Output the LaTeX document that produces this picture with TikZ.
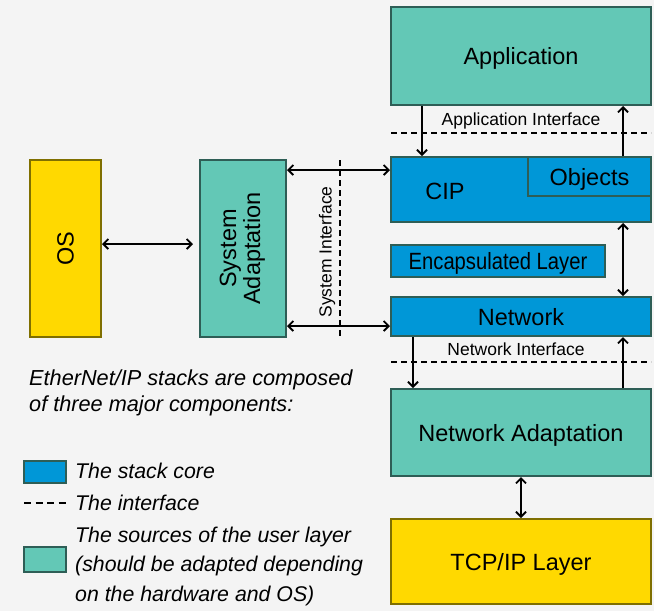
\documentclass[tikz,border=0pt]{standalone}
\usepackage{fontspec}
\setmainfont{Liberation Sans}
\usetikzlibrary{arrows.meta}
\definecolor{bgc}{HTML}{F4F4F4}
\definecolor{tealf}{HTML}{63C8B6}
\definecolor{teald}{HTML}{2E5E56}
\definecolor{bluef}{HTML}{0097D7}
\definecolor{yelf}{HTML}{FFD900}
\definecolor{yeld}{HTML}{7F6F00}
\tikzset{
  box/.style={draw, line width=2pt, inner sep=0pt, text depth=0pt, font=\fontsize{23.5}{26}\selectfont},
  tealbox/.style={box, fill=tealf, draw=teald},
  bluebox/.style={box, fill=bluef, draw=teald},
  yelbox/.style={box, fill=yelf, draw=yeld},
  arr/.style={line width=1.8pt, -{Straight Barb[length=5pt,width=10pt,line width=1.8pt]}},
  darr/.style={line width=1.8pt, {Straight Barb[length=5pt,width=10pt,line width=1.8pt]}-{Straight Barb[length=5pt,width=10pt,line width=1.8pt]}},
  dashline/.style={line width=1.8pt, dash pattern=on 6pt off 4pt},
  iflabel/.style={inner sep=0pt, font=\fontsize{17.5}{20}\selectfont},
  legtext/.style={inner sep=0pt, align=left, font=\fontsize{21.3}{29.5}\selectfont\itshape}
}
\begin{document}
\begin{tikzpicture}[x=1pt,y=-1pt]
\useasboundingbox[fill=bgc] (0,0) rectangle (654,611);

% stack boxes
\node[tealbox, minimum width=260pt, minimum height=98pt] (app) at (521,56) {Application};
\node[bluebox, minimum width=260pt, minimum height=65pt] (cip) at (521,189.5) {};
\node[inner sep=0pt, text depth=0pt, font=\fontsize{23.5}{26}\selectfont] (ciplab) at (445,191) {CIP};
\node[bluebox, minimum width=123pt, minimum height=39pt] (obj) at (589.5,176.5) {Objects};
\node[bluebox, minimum width=214pt, minimum height=32pt] (enc) at (498,261) {\scalebox{0.86}[1]{Encapsulated Layer}};
\node[bluebox, minimum width=260pt, minimum height=39pt] (net) at (521,316.5) {Network};
\node[tealbox, minimum width=260pt, minimum height=87pt] (na) at (521,432.5) {Network Adaptation};
\node[yelbox, minimum width=260pt, minimum height=85pt] (tcp) at (521,561.5) {TCP/IP Layer};

% left boxes
\node[yelbox, minimum width=71pt, minimum height=177pt] (os) at (65.5,248.5) {\rotatebox{90}{OS}};
\node[tealbox, minimum width=86pt, minimum height=177pt] (sa) at (243,248.5) {\rotatebox{90}{\begin{tabular}{@{}c@{}}System\\[-2pt]Adaptation\end{tabular}}};

% arrow x/y positions
\coordinate (xa) at (422,0);
\coordinate (xb) at (623,0);
\coordinate (xc) at (413,0);
\coordinate (ya) at (0,244);
\coordinate (yb) at (0,170);
\coordinate (yc) at (0,326);

% vertical arrows
\draw[arr] (app.south -| xa) -- (cip.north -| xa);
\draw[arr] (obj.north -| xb) -- (app.south -| xb);
\draw[darr] (cip.south -| xb) -- (net.north -| xb);
\draw[arr] (net.south -| xc) -- (na.north -| xc);
\draw[arr] (na.north -| xb) -- (net.south -| xb);
\draw[darr] (na.south) -- (tcp.north);

% horizontal arrows
\draw[darr, shorten >=6pt] (os.east |- ya) -- (sa.west |- ya);
\draw[darr] (sa.east |- yb) -- (cip.west |- yb);
\draw[darr] (sa.east |- yc) -- (net.west |- yc);

% interfaces
\coordinate (ai1) at (391,133);
\coordinate (ai2) at (651,133);
\draw[dashline] (ai1) -- (ai2);
\node[iflabel] (ailab) at (521,121) {Application Interface};
\coordinate (ni1) at (391,362);
\coordinate (ni2) at (651,362);
\draw[dashline] (ni1) -- (ni2);
\node[iflabel] (nilab) at (516,349) {Network Interface};
\coordinate (si1) at (340,160);
\coordinate (si2) at (340,338);
\draw[dashline] (si1) -- (si2);
\node[iflabel, rotate=90] (silab) at (327,252) {System Interface};

% description
\node[legtext, anchor=west, font=\fontsize{21.7}{26}\selectfont\itshape] (desc) at (29,393) {EtherNet/IP stacks are composed\\of three major components:};

% legend
\node[bluebox, minimum width=42pt, minimum height=22pt] (lg1) at (45,472) {};
\node[legtext, anchor=west] (lt1) at (75,471) {The stack core};
\coordinate (ld1) at (24,503);
\coordinate (ld2) at (66,503);
\draw[line width=1.8pt, dash pattern=on 7pt off 4.5pt] (ld1) -- (ld2);
\node[legtext, anchor=west] (lt2) at (75,503) {The interface};
\node[tealbox, minimum width=42pt, minimum height=25pt] (lg2) at (45,559.5) {};
\node[legtext, anchor=west] (lt3) at (75,566) {The sources of the user layer\\(should be adapted depending\\on the hardware and OS)};
\end{tikzpicture}
\end{document}
